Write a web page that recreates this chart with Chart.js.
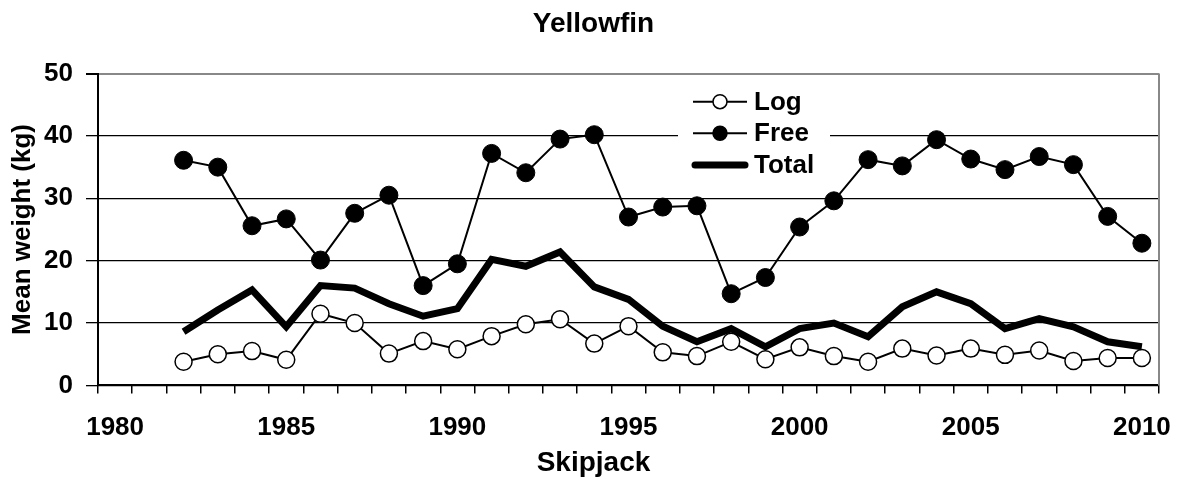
<!DOCTYPE html>
<html>
<head>
<meta charset="utf-8">
<script src="https://cdn.jsdelivr.net/npm/chart.js@4.4.1/dist/chart.umd.min.js"></script>
<style>
  html, body { margin:0; padding:0; background:#fff; }
  canvas { display:block; }
</style>
</head>
<body>
<canvas id="chart" width="1181" height="484"></canvas>
<script>
const years = [];
for (let y = 1980; y <= 2010; y++) years.push(String(y));

// 1980, 1981 have no data
const logWeight = [null, null,
  3.8, 5.0, 5.5, 4.1, 11.5, 10.0, 5.1, 7.1, 5.8,
  7.9, 9.8, 10.6, 6.7, 9.5, 5.3, 4.7, 7.0, 4.2, 6.1,
  4.7, 3.8, 5.9, 4.8, 5.9, 4.9, 5.6, 3.9, 4.4, 4.4];
const freeWeight = [null, null,
  36.1, 35.0, 25.6, 26.7, 20.1, 27.6, 30.5, 16.0, 19.5,
  37.2, 34.1, 39.5, 40.2, 27.0, 28.6, 28.8, 14.7, 17.3, 25.4,
  29.6, 36.2, 35.2, 39.4, 36.3, 34.6, 36.7, 35.4, 27.1, 22.8];
const totalWeight = [null, null,
  8.6, 12.1, 15.3, 9.4, 16.0, 15.6, 13.1, 11.1, 12.3,
  20.2, 19.1, 21.4, 15.8, 13.8, 9.5, 7.0, 9.1, 6.2, 9.1,
  10.0, 7.8, 12.6, 15.0, 13.1, 9.1, 10.7, 9.4, 7.0, 6.2];
const yTicks = [0, 10, 20, 30, 40, 50];

const FONT = "'Liberation Sans', Arial, sans-serif";

const frameAndLegend = {
  id: 'frameAndLegend',
  beforeDatasetsDraw(chart){
    const ctx = chart.ctx, a = chart.chartArea;
    ctx.save();
    // grey frame on the right
    ctx.strokeStyle = '#888';
    ctx.lineWidth = 2;
    ctx.beginPath();
    ctx.moveTo(a.right, a.top);
    ctx.lineTo(a.right, a.bottom);
    ctx.stroke();

    // legend box
    ctx.fillStyle = '#fff';
    ctx.fillRect(678, 84, 152, 96);

    const rows = [
      {label:'Log', y:101.7, kind:'open'},
      {label:'Free', y:133.3, kind:'filled'},
      {label:'Total', y:165, kind:'thick'}
    ];
    rows.forEach(r => {
      ctx.strokeStyle = '#000';
      if (r.kind === 'thick') {
        ctx.lineWidth = 7;
        ctx.lineCap = 'round';
        ctx.beginPath(); ctx.moveTo(695, r.y); ctx.lineTo(745, r.y); ctx.stroke();
      } else {
        ctx.lineWidth = 2;
        ctx.lineCap = 'butt';
        ctx.beginPath(); ctx.moveTo(693, r.y); ctx.lineTo(747, r.y); ctx.stroke();
        ctx.beginPath();
        ctx.arc(720, r.y, 7, 0, Math.PI * 2);
        ctx.fillStyle = r.kind === 'open' ? '#fff' : '#000';
        ctx.fill();
        ctx.lineWidth = 1.5;
        ctx.stroke();
      }
      ctx.fillStyle = '#000';
      ctx.font = 'bold 26px ' + FONT;
      ctx.textBaseline = 'middle';
      ctx.textAlign = 'left';
      ctx.fillText(r.label, 754, r.y + 1);
    });
    ctx.restore();
  }
};

new Chart(document.getElementById('chart'), {
  type: 'line',
  data: {
    labels: years,
    datasets: [
      {
        label: 'Log',
        data: logWeight,
        borderColor: '#000',
        borderWidth: 2,
        pointRadius: 8.5,
        pointBackgroundColor: '#fff',
        pointBorderColor: '#000',
        pointBorderWidth: 1.5,
        tension: 0,
        order: 1
      },
      {
        label: 'Free',
        data: freeWeight,
        borderColor: '#000',
        borderWidth: 2,
        pointRadius: 9,
        pointBackgroundColor: '#000',
        pointBorderColor: '#000',
        pointBorderWidth: 1,
        tension: 0,
        order: 2
      },
      {
        label: 'Total',
        data: totalWeight,
        borderColor: '#000',
        borderWidth: 7,
        pointRadius: 0,
        tension: 0,
        order: 0
      }
    ]
  },
  options: {
    responsive: false,
    animation: false,
    layout: { padding: { left: 6, right: 0, top: 0, bottom: 0 } },
    plugins: {
      legend: { display: false },
      tooltip: { enabled: false },
      title: {
        display: true,
        text: 'Yellowfin',
        color: '#000',
        font: { family: FONT, size: 28, weight: 'bold' },
        padding: { top: 7, bottom: 33 }
      },
      // x axis name, centred on the whole figure like the title
      subtitle: {
        display: true,
        position: 'bottom',
        text: 'Skipjack',
        color: '#000',
        font: { family: FONT, size: 28, weight: 'bold' },
        padding: { top: 0, bottom: 4 }
      }
    },
    scales: {
      x: {
        type: 'category',
        offset: true,
        grid: {
          offset: true,
          drawOnChartArea: false,
          color: '#000',
          tickLength: 8,
          lineWidth: 1.5
        },
        border: { color: '#000', width: 2 },
        ticks: {
          autoSkip: false,
          maxRotation: 0,
          padding: 19,
          color: '#000',
          font: { family: FONT, size: 26, weight: 'bold' },
          callback: function(val, i){
            const lab = this.getLabelForValue(val);
            return Number(lab) % 5 === 0 ? lab : '';
          }
        },
        afterFit: s => { s.height = 61; s.paddingLeft = 0; s.paddingRight = 22; }
      },
      y: {
        min: 0,
        max: 50,
        afterBuildTicks: s => { s.ticks = yTicks.map(v => ({ value: v })); },
        grid: {
          color: c => c.tick && c.tick.value === 50 ? '#888' : '#000',
          tickColor: '#000',
          lineWidth: c => c.tick && c.tick.value === 50 ? 2 : 1.3,
          tickLength: 12
        },
        border: { color: '#000', width: 2 },
        ticks: {
          padding: 13,
          color: '#000',
          font: { family: FONT, size: 26, weight: 'bold' }
        },
        title: {
          display: true,
          text: 'Mean weight (kg)',
          color: '#000',
          font: { family: FONT, size: 26, weight: 'bold' },
          padding: 1
        },
        afterFit: s => { s.width = 92; }
      }
    }
  },
  plugins: [frameAndLegend]
});
</script>
</body>
</html>
